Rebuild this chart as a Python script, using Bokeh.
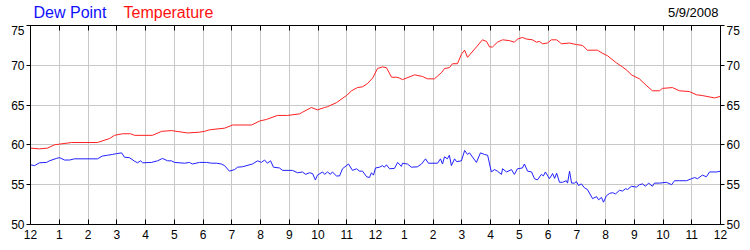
from bokeh.plotting import figure
from bokeh.models import Range1d, LinearAxis, FixedTicker, Label
from bokeh.layouts import column
from bokeh.embed import file_html
from bokeh.resources import INLINE

# Hours since midnight (5/9/2008) and readings in °F
temp_hours = [0.00, 0.31, 0.59, 0.83, 1.01, 1.43, 2.33, 2.75, 2.92, 3.20, 3.48, 3.62, 4.24, 4.56,
              4.90, 5.46, 5.88, 6.05, 6.23, 6.75, 7.03, 7.69, 7.97, 8.21, 8.59, 8.94, 9.36, 9.46,
              9.77, 9.98, 10.23, 10.33, 10.64, 10.99, 11.17, 11.37, 11.55, 11.72, 11.90, 12.07,
              12.24, 12.38, 12.56, 12.73, 12.83, 12.94, 13.36, 13.63, 13.81, 14.05, 14.30, 14.40,
              14.57, 14.68, 14.85, 14.99, 15.10, 15.20, 15.51, 15.72, 15.86, 15.97, 16.07, 16.24,
              16.42, 16.66, 16.83, 16.94, 17.11, 17.25, 17.46, 17.60, 17.70, 17.81, 17.98, 18.12,
              18.30, 18.47, 18.75, 18.99, 19.20, 19.37, 19.72, 19.90, 20.07, 20.38, 20.59, 20.77,
              20.90, 21.18, 21.41, 21.63, 21.88, 21.98, 22.33, 22.57, 22.92, 23.16, 23.37, 23.79,
              24.00]
temperature = [59.6, 59.5, 59.6, 60.0, 60.1, 60.3, 60.3, 60.8, 61.2, 61.4, 61.4, 61.2, 61.2, 61.7,
               61.8, 61.5, 61.6, 61.7, 61.9, 62.1, 62.5, 62.5, 63.0, 63.2, 63.7, 63.7, 63.9, 64.1,
               64.7, 64.4, 64.7, 64.8, 65.3, 66.2, 66.8, 67.2, 67.3, 67.7, 68.4, 69.6,
               69.8, 69.7, 68.5, 68.5, 68.4, 68.2, 68.8, 68.6, 68.3, 68.3, 69.1, 69.6,
               69.7, 70.2, 70.2, 71.4, 71.9, 71.0, 72.3, 73.2, 73.0, 72.3, 72.3, 72.9,
               73.2, 73.1, 72.9, 73.3, 73.5, 73.3, 73.2, 72.9, 73.0, 72.7, 72.8, 73.2,
               73.2, 72.7, 72.8, 72.6, 72.5, 71.9, 71.9, 71.5, 71.2, 70.3, 69.8, 69.3,
               68.8, 68.3, 67.5, 66.8, 66.8, 67.1, 67.2, 66.8, 66.7, 66.3, 66.2, 65.9,
               66.1]

dew_hours = [0.00, 0.14, 0.31, 0.56, 0.66, 0.90, 1.01, 1.18, 1.36, 1.53, 2.33, 2.50, 2.68, 2.85,
             2.99, 3.17, 3.27, 3.44, 3.62, 3.72, 3.83, 3.90, 4.21, 4.42, 4.59, 4.77, 4.90, 5.01,
             5.36, 5.53, 5.63, 5.88, 6.12, 6.30, 6.47, 6.64, 6.75, 6.92, 7.10, 7.20, 7.37, 7.72,
             7.90, 8.03, 8.14, 8.24, 8.35, 8.45, 8.66, 8.77, 9.11, 9.29, 9.46, 9.57, 9.70, 9.81,
             9.91, 9.98, 10.16, 10.23, 10.33, 10.43, 10.50, 10.64, 10.75, 10.85, 11.06, 11.20,
             11.34, 11.44, 11.55, 11.69, 11.79, 11.86, 11.93, 12.00, 12.14, 12.24, 12.31, 12.38,
             12.49, 12.66, 12.77, 12.90, 12.94, 13.11, 13.25, 13.46, 13.60, 13.74, 13.84, 14.16,
             14.26, 14.33, 14.40, 14.50, 14.57, 14.64, 14.75, 14.82, 14.99, 15.10, 15.20, 15.27,
             15.51, 15.65, 15.79, 15.90, 16.03, 16.14, 16.24, 16.38, 16.42, 16.56, 16.73, 16.83,
             16.94, 17.11, 17.18, 17.29, 17.43, 17.53, 17.63, 17.77, 17.84, 17.91, 18.05, 18.16,
             18.23, 18.30, 18.40, 18.50, 18.64, 18.68, 18.75, 18.82, 18.92, 18.99, 19.06, 19.16,
             19.27, 19.37, 19.55, 19.69, 19.76, 19.86, 19.93, 20.03, 20.14, 20.24, 20.35, 20.49,
             20.59, 20.70, 20.77, 20.90, 21.08, 21.18, 21.29, 21.39, 21.50, 21.63, 21.70, 21.88,
             22.12, 22.30, 22.40, 22.57, 22.82, 22.99, 23.10, 23.20, 23.37, 23.51, 23.62, 23.86,
             24.00]
dew_point = [57.5, 57.4, 57.75, 57.8, 58.0, 58.3, 58.4, 58.1, 58.1, 58.25, 58.25, 58.6, 58.7, 58.8,
             58.9, 59.0, 58.45, 58.4, 57.95, 57.75, 58.0, 57.75, 57.8, 58.0, 58.3, 58.0, 58.0, 57.8,
             57.7, 57.8, 57.6, 57.8, 57.8, 57.7, 57.7, 57.6, 57.4, 56.7, 56.9, 57.2, 57.25, 57.6,
             58.0, 57.8, 58.1, 57.7, 58.0, 57.2, 57.1, 56.8, 56.8, 56.5, 56.6, 56.3, 56.5, 56.4,
             55.6, 56.2, 56.6, 56.3, 56.6, 56.3, 56.6, 56.1, 56.1, 57.0, 57.6, 56.8,
             57.0, 56.7, 56.7, 56.0, 55.9, 56.5, 56.2, 57.1, 57.2, 57.4, 57.2, 57.5,
             57.0, 57.05, 57.8, 57.3, 57.7, 57.6, 57.2, 57.25, 57.6, 58.25, 57.7, 57.7,
             58.25, 57.6, 58.5, 58.25, 58.7, 57.4, 58.25, 57.9, 58.0, 59.3, 58.8, 59.0,
             57.8, 59.0, 58.8, 58.7, 56.6, 56.9, 56.7, 56.3, 57.0, 56.6, 56.9, 56.3,
             57.0, 57.1, 57.6, 56.7, 56.6, 55.75, 55.6, 56.3, 56.1, 56.6, 55.75, 56.4,
             55.8, 56.45, 55.3, 55.3, 55.5, 55.2, 56.7, 55.2, 55.2, 55.4, 54.9, 55.1,
             54.6, 54.4, 53.25, 53.5, 53.1, 53.4, 52.8, 53.6, 53.9, 54.0, 53.85, 54.3,
             54.2, 54.5, 54.4, 54.8, 54.7, 55.0, 55.1, 54.8, 55.2, 54.8, 55.2, 55.2,
             55.3, 55.0, 55.5, 55.5, 55.5, 55.75, 55.9, 55.75, 56.2, 56.0, 56.6, 56.6,
             56.7]

x_ticks = list(range(0, 25))
x_tick_labels = ["12", "1", "2", "3", "4", "5", "6", "7", "8", "9", "10", "11",
                 "12", "1", "2", "3", "4", "5", "6", "7", "8", "9", "10", "11", "12"]
y_ticks = [50, 55, 60, 65, 70, 75]
series_names = ["Dew Point", "Temperature"]
date_text = "5/9/2008"

FONT = "Liberation Sans"
GRID = "#c8c8c8"
DEW_COLOR = "#2020ff"
TEMP_COLOR = "#ff2020"

# ---- header strip (legend texts and date); its frame spans page x 30..720 ----
head = figure(width=750, height=25, output_backend="svg", toolbar_location=None,
              x_range=Range1d(30, 720), y_range=Range1d(0, 25),
              x_axis_type=None, y_axis_type=None,
              min_border_left=30, min_border_right=30, min_border_top=0, min_border_bottom=0,
              background_fill_color="white", border_fill_color="white")
head.title.visible = False
head.outline_line_color = None
head.grid.visible = False

def header(text, x, color, size, align):
    return Label(x=x, y=13, text=text, text_color=color, text_font=FONT,
                 text_font_size=size, text_baseline="alphabetic", text_align=align)

head.add_layout(header(series_names[0], 33, "#1010ff", "16px", "left"))
head.add_layout(header(series_names[1], 123, "#ff1010", "16px", "left"))
head.add_layout(header(date_text, 718, "black", "13px", "right"))

# ---- main chart ----
p = figure(width=750, height=225, output_backend="svg", toolbar_location=None,
           x_range=Range1d(0, 24), y_range=Range1d(50, 75),
           min_border_left=30, min_border_right=30, min_border_top=0, min_border_bottom=26,
           background_fill_color="white", border_fill_color="white")
p.title.visible = False
p.outline_line_color = "black"
p.xaxis.visible = False
p.yaxis.visible = False

p.xgrid.ticker = FixedTicker(ticks=x_ticks)
p.ygrid.ticker = FixedTicker(ticks=y_ticks)
p.xgrid.grid_line_color = GRID
p.ygrid.grid_line_color = GRID

overrides = {i: t for i, t in zip(x_ticks, x_tick_labels)}

def style_x(ax, labels=True):
    ax.ticker = FixedTicker(ticks=x_ticks)
    ax.major_label_overrides = overrides
    ax.axis_line_color = "black"
    ax.major_tick_line_color = "black"
    ax.major_tick_in = 5
    ax.major_tick_out = 0
    ax.minor_tick_line_color = None
    ax.major_label_text_font = FONT
    ax.major_label_text_font_size = "12px" if labels else "0px"
    ax.major_label_text_color = "black" if labels else None
    ax.major_label_standoff = 5 if labels else 0

def style_y(ax):
    ax.ticker = FixedTicker(ticks=y_ticks)
    ax.axis_line_color = "black"
    ax.major_tick_line_color = "black"
    ax.major_tick_in = 0
    ax.major_tick_out = 4
    ax.minor_tick_line_color = None
    ax.major_label_text_font = FONT
    ax.major_label_text_font_size = "12px"
    ax.major_label_text_color = "black"
    ax.major_label_standoff = 2

bottom = LinearAxis()
style_x(bottom)
p.add_layout(bottom, "below")
top = LinearAxis()
style_x(top, labels=False)
p.add_layout(top, "above")
left = LinearAxis()
style_y(left)
p.add_layout(left, "left")
right = LinearAxis()
style_y(right)
p.add_layout(right, "right")

p.line(temp_hours, temperature, line_color=TEMP_COLOR, line_width=1)
p.line(dew_hours, dew_point, line_color=DEW_COLOR, line_width=1)

layout = column(head, p, spacing=0)
open("out.html", "w").write(file_html(layout, INLINE))
